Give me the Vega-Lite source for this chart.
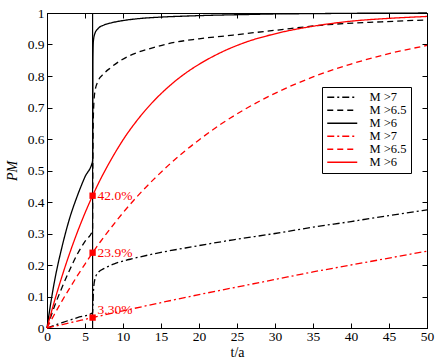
{
  "$schema": "https://vega.github.io/schema/vega-lite/v6.json",
  "width": 380,
  "height": 315,
  "autosize": {"type": "none"},
  "padding": {"left": 47, "top": 13, "right": 21, "bottom": 36},
  "background": "white",
  "config": {
    "view": {"stroke": "black", "strokeWidth": 1},
    "font": "Liberation Serif",
    "text": {"font": "Liberation Serif"},
    "legend": {"labelFont": "Liberation Serif"},
    "axis": {
      "grid": false,
      "domainColor": "black",
      "tickColor": "black",
      "labelColor": "black",
      "labelFont": "Liberation Serif",
      "labelFontSize": 13.5,
      "labelOverlap": false,
      "labelFlush": false,
      "titleFont": "Liberation Serif",
      "titleFontSize": 14,
      "titleFontWeight": "normal",
      "titleColor": "black",
      "tickSize": -5,
      "labelPadding": 8
    }
  },
  "datasets": {
    "curves": [
      {"s": "k6", "t": 0, "p": 0},
      {"s": "k6", "t": 0.5, "p": 0.08},
      {"s": "k6", "t": 1, "p": 0.15},
      {"s": "k6", "t": 2, "p": 0.26},
      {"s": "k6", "t": 3, "p": 0.35},
      {"s": "k6", "t": 4, "p": 0.42},
      {"s": "k6", "t": 5, "p": 0.48},
      {"s": "k6", "t": 6, "p": 0.53},
      {"s": "k6", "t": 6.03, "p": 0.85},
      {"s": "k6", "t": 6.1, "p": 0.91},
      {"s": "k6", "t": 6.3, "p": 0.935},
      {"s": "k6", "t": 6.7, "p": 0.95},
      {"s": "k6", "t": 7.5, "p": 0.962},
      {"s": "k6", "t": 8.5, "p": 0.969},
      {"s": "k6", "t": 10, "p": 0.976},
      {"s": "k6", "t": 12, "p": 0.982},
      {"s": "k6", "t": 15, "p": 0.987},
      {"s": "k6", "t": 18, "p": 0.99},
      {"s": "k6", "t": 22, "p": 0.993},
      {"s": "k6", "t": 26, "p": 0.995},
      {"s": "k6", "t": 30, "p": 0.997},
      {"s": "k6", "t": 35, "p": 0.998},
      {"s": "k6", "t": 40, "p": 0.999},
      {"s": "k6", "t": 50, "p": 1.0},
      {"s": "k65", "t": 0, "p": 0},
      {"s": "k65", "t": 1, "p": 0.07},
      {"s": "k65", "t": 2, "p": 0.13},
      {"s": "k65", "t": 3, "p": 0.185},
      {"s": "k65", "t": 4, "p": 0.235},
      {"s": "k65", "t": 5, "p": 0.275},
      {"s": "k65", "t": 6, "p": 0.31},
      {"s": "k65", "t": 6.02, "p": 0.45},
      {"s": "k65", "t": 6.06, "p": 0.6},
      {"s": "k65", "t": 6.12, "p": 0.69},
      {"s": "k65", "t": 6.3, "p": 0.75},
      {"s": "k65", "t": 6.75, "p": 0.785},
      {"s": "k65", "t": 7.5, "p": 0.808},
      {"s": "k65", "t": 8.3, "p": 0.825},
      {"s": "k65", "t": 9.6, "p": 0.848},
      {"s": "k65", "t": 11.6, "p": 0.872},
      {"s": "k65", "t": 14, "p": 0.89},
      {"s": "k65", "t": 16, "p": 0.903},
      {"s": "k65", "t": 20, "p": 0.918},
      {"s": "k65", "t": 24.5, "p": 0.93},
      {"s": "k65", "t": 30, "p": 0.945},
      {"s": "k65", "t": 37, "p": 0.963},
      {"s": "k65", "t": 44, "p": 0.972},
      {"s": "k65", "t": 50, "p": 0.978},
      {"s": "k7", "t": 0, "p": 0},
      {"s": "k7", "t": 2, "p": 0.017},
      {"s": "k7", "t": 4, "p": 0.033},
      {"s": "k7", "t": 6, "p": 0.048},
      {"s": "k7", "t": 6.05, "p": 0.08},
      {"s": "k7", "t": 6.12, "p": 0.12},
      {"s": "k7", "t": 6.3, "p": 0.155},
      {"s": "k7", "t": 6.7, "p": 0.175},
      {"s": "k7", "t": 7.6, "p": 0.19},
      {"s": "k7", "t": 9, "p": 0.205},
      {"s": "k7", "t": 11.6, "p": 0.222},
      {"s": "k7", "t": 15, "p": 0.24},
      {"s": "k7", "t": 18.2, "p": 0.254},
      {"s": "k7", "t": 24.5, "p": 0.28},
      {"s": "k7", "t": 30, "p": 0.3},
      {"s": "k7", "t": 35, "p": 0.32},
      {"s": "k7", "t": 40, "p": 0.338},
      {"s": "k7", "t": 45, "p": 0.357},
      {"s": "k7", "t": 50, "p": 0.375},
      {"s": "r6", "t": 0, "p": 0},
      {"s": "r6", "t": 1, "p": 0.0868},
      {"s": "r6", "t": 2, "p": 0.166},
      {"s": "r6", "t": 3, "p": 0.2385},
      {"s": "r6", "t": 4, "p": 0.3046},
      {"s": "r6", "t": 5, "p": 0.365},
      {"s": "r6", "t": 6, "p": 0.42},
      {"s": "r6", "t": 7, "p": 0.4704},
      {"s": "r6", "t": 8, "p": 0.516},
      {"s": "r6", "t": 9, "p": 0.558},
      {"s": "r6", "t": 10, "p": 0.597},
      {"s": "r6", "t": 12, "p": 0.6636},
      {"s": "r6", "t": 14, "p": 0.7195},
      {"s": "r6", "t": 16, "p": 0.766},
      {"s": "r6", "t": 18, "p": 0.805},
      {"s": "r6", "t": 20, "p": 0.837},
      {"s": "r6", "t": 23, "p": 0.876},
      {"s": "r6", "t": 26, "p": 0.906},
      {"s": "r6", "t": 30, "p": 0.934},
      {"s": "r6", "t": 35, "p": 0.958},
      {"s": "r6", "t": 40, "p": 0.974},
      {"s": "r6", "t": 45, "p": 0.983},
      {"s": "r6", "t": 50, "p": 0.989},
      {"s": "r65", "t": 0, "p": 0},
      {"s": "r65", "t": 1, "p": 0.0445},
      {"s": "r65", "t": 2, "p": 0.087},
      {"s": "r65", "t": 3, "p": 0.127},
      {"s": "r65", "t": 4, "p": 0.166},
      {"s": "r65", "t": 5, "p": 0.203},
      {"s": "r65", "t": 6, "p": 0.239},
      {"s": "r65", "t": 7, "p": 0.273},
      {"s": "r65", "t": 8, "p": 0.305},
      {"s": "r65", "t": 9, "p": 0.336},
      {"s": "r65", "t": 10, "p": 0.366},
      {"s": "r65", "t": 12, "p": 0.421},
      {"s": "r65", "t": 14, "p": 0.471},
      {"s": "r65", "t": 16, "p": 0.517},
      {"s": "r65", "t": 18, "p": 0.559},
      {"s": "r65", "t": 20, "p": 0.597},
      {"s": "r65", "t": 23, "p": 0.649},
      {"s": "r65", "t": 26, "p": 0.694},
      {"s": "r65", "t": 30, "p": 0.745},
      {"s": "r65", "t": 35, "p": 0.797},
      {"s": "r65", "t": 40, "p": 0.838},
      {"s": "r65", "t": 45, "p": 0.871},
      {"s": "r65", "t": 50, "p": 0.897},
      {"s": "r7", "t": 0, "p": 0},
      {"s": "r7", "t": 2, "p": 0.011},
      {"s": "r7", "t": 4, "p": 0.022},
      {"s": "r7", "t": 6, "p": 0.033},
      {"s": "r7", "t": 10, "p": 0.0545},
      {"s": "r7", "t": 15, "p": 0.0805},
      {"s": "r7", "t": 20, "p": 0.106},
      {"s": "r7", "t": 25, "p": 0.13},
      {"s": "r7", "t": 30, "p": 0.154},
      {"s": "r7", "t": 35, "p": 0.178},
      {"s": "r7", "t": 40, "p": 0.2},
      {"s": "r7", "t": 45, "p": 0.222},
      {"s": "r7", "t": 50, "p": 0.244}
    ],
    "marks": [
      {"t": 6, "p": 0.42, "lab": "42.0%"},
      {"t": 6, "p": 0.239, "lab": "23.9%"},
      {"t": 6, "p": 0.033, "lab": "3.30%"}
    ],
    "rule": [{"t": 6}]
  },
  "layer": [
    {
      "layer": [
        {
          "data": {"name": "rule"},
          "mark": {"type": "rule", "color": "black", "strokeWidth": 1.2},
          "encoding": {
            "x": {
              "field": "t",
              "type": "quantitative",
              "scale": {"domain": [0, 50], "nice": false},
              "axis": {"values": [0, 5, 10, 15, 20, 25, 30, 35, 40, 45, 50], "title": "t/a", "titlePadding": 3, "labelPadding": 6}
            }
          }
        },
        {
          "data": {"name": "curves"},
          "mark": {"type": "line", "strokeWidth": 1.3, "interpolate": "monotone"},
          "encoding": {
            "x": {
              "field": "t",
              "type": "quantitative",
              "scale": {"domain": [0, 50], "nice": false},
              "axis": {"values": [0, 5, 10, 15, 20, 25, 30, 35, 40, 45, 50], "title": "t/a", "titlePadding": 3, "labelPadding": 6}
            },
            "y": {
              "field": "p",
              "type": "quantitative",
              "scale": {"domain": [0, 1], "nice": false},
              "axis": {"values": [0, 0.1, 0.2, 0.3, 0.4, 0.5, 0.6, 0.7, 0.8, 0.9, 1], "format": "~g", "title": "PM", "titleFontStyle": "italic", "titlePadding": 8}
            },
            "color": {
              "field": "s",
              "type": "nominal",
              "scale": {"domain": ["k7", "k65", "k6", "r7", "r65", "r6"], "range": ["black", "black", "black", "#ff0000", "#ff0000", "#ff0000"]},
              "legend": {
                "orient": "none",
                "legendX": 275,
                "legendY": 74,
                "title": null,
                "symbolType": "M-3,0H3",
                "strokeColor": "black",
                "fillColor": "white",
                "padding": 4,
                "labelFont": "Liberation Serif",
                "labelFontSize": 12.5,
                "labelColor": "black",
                "labelOffset": 21,
                "symbolOffset": 10,
                "symbolSize": 100,
                "symbolStrokeWidth": 1.3,
                "symbolFillColor": "transparent",
                "rowPadding": -3,
                "labelExpr": "{'k7':'M >7','k65':'M >6.5','k6':'M >6','r7':'M >7','r65':'M >6.5','r6':'M >6'}[datum.value]"
              }
            },
            "strokeDash": {
              "field": "s",
              "type": "nominal",
              "scale": {"domain": ["k7", "k65", "k6", "r7", "r65", "r6"], "range": [[7, 3, 2, 3], [6, 4], [1, 0], [7, 3, 2, 3], [6, 4], [1, 0]]}
            }
          }
        },
        {
          "data": {"name": "marks"},
          "mark": {"type": "point", "shape": "square", "filled": true, "color": "#ff0000", "size": 40, "opacity": 1},
          "encoding": {
            "x": {"field": "t", "type": "quantitative", "axis": {"values": [0, 5, 10, 15, 20, 25, 30, 35, 40, 45, 50], "title": "t/a", "titlePadding": 3, "labelPadding": 6}},
            "y": {"field": "p", "type": "quantitative", "axis": {"values": [0, 0.1, 0.2, 0.3, 0.4, 0.5, 0.6, 0.7, 0.8, 0.9, 1], "format": "~g", "title": "PM", "titleFontStyle": "italic", "titlePadding": 8}}
          }
        },
        {
          "data": {"name": "marks"},
          "transform": [{"filter": "datum.lab != '3.30%'"}],
          "mark": {"type": "text", "color": "#ff0000", "align": "left", "dx": 5, "fontSize": 13.5, "font": "Liberation Serif"},
          "encoding": {
            "x": {"field": "t", "type": "quantitative", "axis": {"values": [0, 5, 10, 15, 20, 25, 30, 35, 40, 45, 50], "title": "t/a", "titlePadding": 3, "labelPadding": 6}},
            "y": {"field": "p", "type": "quantitative", "axis": {"values": [0, 0.1, 0.2, 0.3, 0.4, 0.5, 0.6, 0.7, 0.8, 0.9, 1], "format": "~g", "title": "PM", "titleFontStyle": "italic", "titlePadding": 8}},
            "text": {"field": "lab"}
          }
        },
        {
          "data": {"name": "marks"},
          "transform": [{"filter": "datum.lab == '3.30%'"}],
          "mark": {"type": "text", "color": "#ff0000", "align": "left", "dx": 5, "dy": -8, "fontSize": 13.5, "font": "Liberation Serif"},
          "encoding": {
            "x": {"field": "t", "type": "quantitative", "axis": {"values": [0, 5, 10, 15, 20, 25, 30, 35, 40, 45, 50], "title": "t/a", "titlePadding": 3, "labelPadding": 6}},
            "y": {"field": "p", "type": "quantitative", "axis": {"values": [0, 0.1, 0.2, 0.3, 0.4, 0.5, 0.6, 0.7, 0.8, 0.9, 1], "format": "~g", "title": "PM", "titleFontStyle": "italic", "titlePadding": 8}},
            "text": {"field": "lab"}
          }
        }
      ]
    },
    {
      "data": {"name": "marks"},
      "mark": {"type": "point", "opacity": 0},
      "encoding": {
        "x": {
          "field": "t",
          "type": "quantitative",
          "axis": {"orient": "top", "labels": false, "title": null, "values": [0, 5, 10, 15, 20, 25, 30, 35, 40, 45, 50]}
        },
        "y": {
          "field": "p",
          "type": "quantitative",
          "axis": {"orient": "right", "labels": false, "title": null, "values": [0, 0.1, 0.2, 0.3, 0.4, 0.5, 0.6, 0.7, 0.8, 0.9, 1]}
        }
      }
    }
  ],
  "resolve": {"axis": {"x": "independent", "y": "independent"}}
}
